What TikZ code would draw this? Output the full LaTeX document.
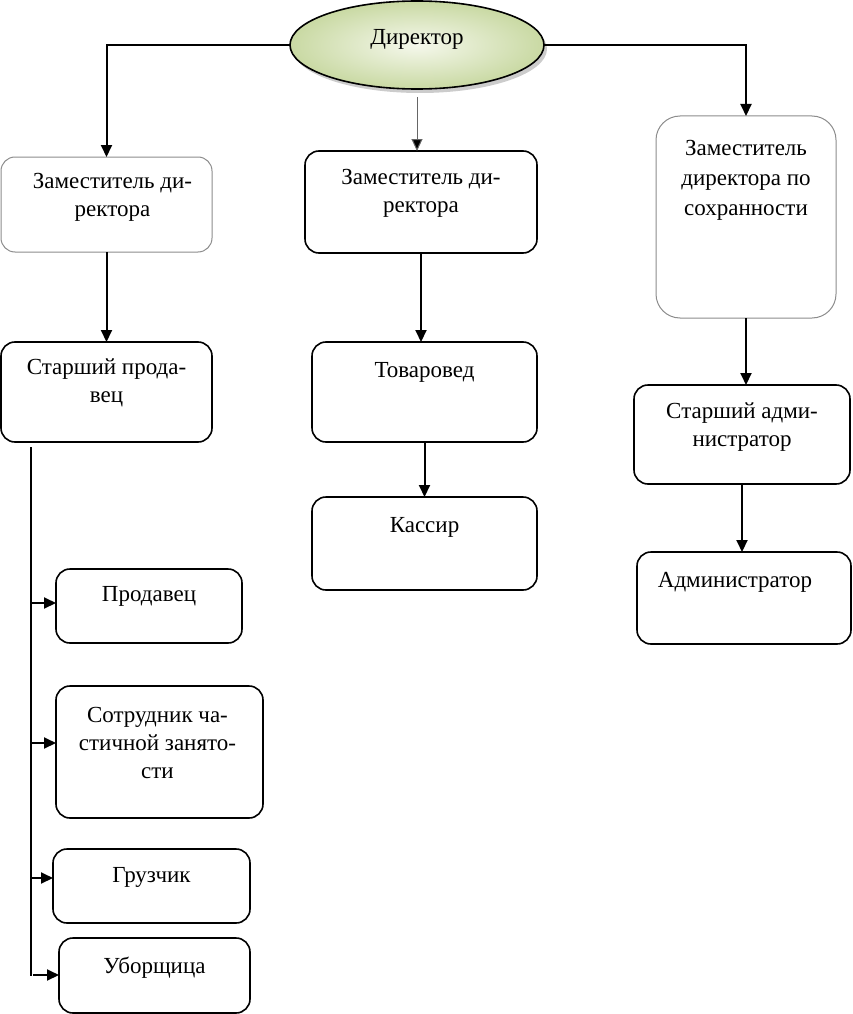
\documentclass[tikz,border=0pt]{standalone}
\usepackage{fontspec}
\setmainfont{Liberation Serif}
\usetikzlibrary{arrows.meta,shadows,fit,calc,shapes.geometric}
\definecolor{elin}{HTML}{F5F8EC}
\definecolor{elout}{HTML}{C9D9A3}
\begin{document}
\begin{tikzpicture}[x=1pt,y=-1pt,
  box/.style={draw=black, line width=1.6pt, rounded corners=14pt, inner sep=0pt, outer sep=0pt},
  lbox/.style={box, draw=black!45, line width=1pt},
  txt/.style={font=\fontsize{23}{28}\selectfont, align=center, inner sep=0pt, anchor=north},
  arr/.style={line width=2pt, -{Triangle[length=12pt,width=11pt]}},
  garr/.style={line width=1pt, draw=black!60, -{Triangle[length=12pt,width=11pt,fill=black]}},
  trunk/.style={line width=1.6pt},
]
\useasboundingbox (0,0) rectangle (853,1014);

% Director ellipse
\node[ellipse, draw=black, line width=1.6pt, minimum width=254pt, minimum height=88pt,
      inner sep=0pt, outer sep=0pt, inner color=elin, outer color=elout,
      drop shadow={shadow xshift=3pt, shadow yshift=-4pt, opacity=0.4}] (e) at (417,45) {};
\node[txt] (te) at (417,29) {Директор};

% boxes
\node[lbox, fit={(1,157) (212,252)}] (b1) {};
\node[box,  fit={(305,151) (537,253)}] (b2) {};
\node[lbox, rounded corners=24pt, fit={(656,116) (836,318)}] (b3) {};
\node[box,  fit={(1,342) (212,442)}] (b4) {};
\node[box,  fit={(312,342) (537,442)}] (b5) {};
\node[box,  fit={(312,497) (537,590)}] (b6) {};
\node[box,  fit={(634,385) (850,484)}] (b7) {};
\node[box,  fit={(637,552) (851,644)}] (b8) {};
\node[box,  fit={(56,569) (242,643)}] (b9) {};
\node[box,  fit={(56,686) (263,818)}] (b10) {};
\node[box,  fit={(53,849) (250,923)}] (b11) {};
\node[box,  fit={(59,938) (250,1013)}] (b12) {};

% texts
\node[txt] (t1) at ($(b1.north)+(6,16)$) {Заместитель ди-\\ректора};
\node[txt] (t2) at ($(b2.north)+(0,18)$) {Заместитель ди-\\ректора};
\node[txt, font=\fontsize{23}{30}\selectfont] (t3) at ($(b3.north)+(0,24)$) {Заместитель\\директора по\\сохранности};
\node[txt] (t4) at ($(b4.north)+(0,17)$) {Старший прода-\\вец};
\node[txt] (t5) at ($(b5.north)+(0,20)$) {Товаровед};
\node[txt] (t6) at ($(b6.north)+(0,20)$) {Кассир};
\node[txt] (t7) at ($(b7.north)+(0,18)$) {Старший адми-\\нистратор};
\node[txt] (t8) at ($(b8.north)+(-9,20)$) {Администратор};
\node[txt] (t9) at ($(b9.north)+(0,17)$) {Продавец};
\node[txt] (t10) at ($(b10.north)+(-2,21)$) {Сотрудник ча-\\стичной занято-\\сти};
\node[txt] (t11) at ($(b11.north)+(0,18)$) {Грузчик};
\node[txt] (t12) at ($(b12.north)+(0,19)$) {Уборщица};

% connectors from director
\draw[arr] (e.west) -| (b1.north);
\draw[arr] (e.east) -| (b3.north);
\draw[garr] ([yshift=-8pt]e.south) -- (e.south |- b2.north);

% vertical chains
\draw[arr] (b1.south) -- (b4.north);
\draw[arr] (b2.south) -- (b2.south |- b5.north);
\draw[arr] (b5.south) -- (b5.south |- b6.north);
\draw[arr] (b3.south) -- (b3.south |- b7.north);
\draw[arr] (b7.south) -- (b7.south |- b8.north);

% trunk
\coordinate (trT) at (31,447);
\coordinate (trB) at (31,976);
\draw[trunk] (trT) -- (trB);
\coordinate (j1) at (31,603);
\coordinate (j2) at (31,743);
\coordinate (j3) at (31,878);
\coordinate (j4) at (33,975);
\draw[arr] (j1) -- (j1 -| b9.west);
\draw[arr] (j2) -- (j2 -| b10.west);
\draw[arr] (j3) -- (j3 -| b11.west);
\draw[arr] (j4) -- (j4 -| b12.west);
\end{tikzpicture}
\end{document}
